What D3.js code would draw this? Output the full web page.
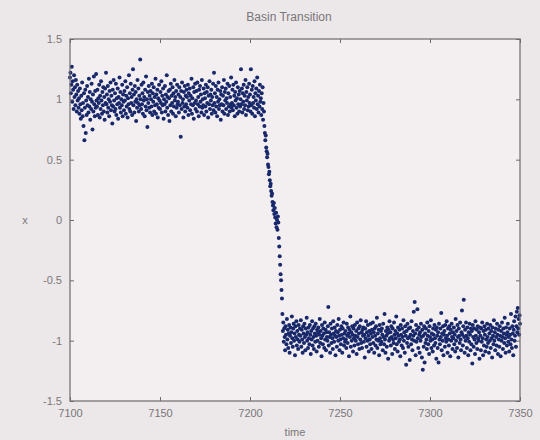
<!DOCTYPE html>
<html>
<head>
<meta charset="utf-8">
<script src="https://cdn.jsdelivr.net/npm/d3@7"></script>
<style>
  body { margin: 0; background: #ece8ea; }
  svg text { font-family: "Liberation Sans", Arial, sans-serif; fill: #7a7678; }
</style>
</head>
<body>
<script>
const w = 540;
const h = 440;
const margin = {top: 39, right: 20, bottom: 39, left: 70};
const title = "Basin Transition";
const xLabel = "time";
const yLabel = "x";
const xTicks = [7100, 7150, 7200, 7250, 7300, 7350];
const yTicks = [-1.5, -1, -0.5, 0, 0.5, 1, 1.5];
const dt = 0.25;

// upper state, from t = 7100
const upperStart = 7100;
const upperVals = [
1.18,1.22,1.05,1.12,1.27,.98,1.15,1.08,.92,1.2,1.02,1.1,.95,1.16,1.04,.9,1.12,.99,1.07,.93,
1.01,.88,1.09,.96,.84,1.03,.91,1.14,.86,.97,.78,1.05,.66,.93,1.08,.72,.99,.87,1.11,.95,
1.02,.89,1.17,.94,1.06,.83,1.0,.92,1.13,.98,.75,1.04,.9,1.19,.96,.86,1.07,.93,1.21,.99,
.94,1.08,.87,1.01,.97,1.12,.85,1.03,.92,1.15,.99,.88,1.06,.95,1.1,.9,1.02,.83,1.09,.97,
1.22,.96,1.04,.89,1.11,.93,1.0,.86,1.07,.98,1.14,.91,1.03,.95,.8,1.08,.94,1.16,.99,.9,
1.05,.92,1.13,.87,1.01,.96,1.09,.84,1.02,.97,1.18,.93,1.06,.89,1.0,.95,1.12,.86,1.04,.98,
.91,1.07,.99,1.15,.88,1.03,.94,1.1,.85,1.01,.96,1.2,.92,1.05,.9,1.13,.97,1.02,.87,1.08,
1.25,.95,1.04,.89,1.11,.98,1.06,.82,1.0,.93,1.16,.97,1.09,.9,1.03,.95,1.33,1.0,.92,1.12,
.96,1.05,.88,1.14,.99,1.02,.86,1.08,.94,1.19,.91,1.0,.77,1.06,.97,1.11,.93,1.03,.89,1.07,
1.0,.94,1.13,.87,1.05,.98,1.1,.9,1.02,.95,1.17,.88,1.04,.96,1.08,.85,1.01,.93,1.12,.99,
.92,1.06,.97,1.15,.89,1.03,.95,1.09,.84,1.0,.96,1.11,.9,1.04,.98,1.2,.93,1.02,.87,1.07,
1.01,.82,1.08,.95,1.13,.9,1.03,.97,1.1,.88,1.05,.94,1.16,.99,1.02,.86,1.07,.93,1.12,.96,
.98,1.04,.89,1.1,.95,1.02,.69,1.07,.92,1.14,.97,1.0,.85,1.06,.94,1.11,.9,1.03,.96,1.08,
1.02,.93,1.12,.87,1.05,.99,1.09,.91,1.03,.96,1.17,.88,1.01,.95,1.1,.84,1.06,.97,1.13,.92,
.99,1.07,.9,1.14,.96,1.02,.86,1.08,.94,1.11,.98,1.04,.89,1.16,.93,1.0,.95,1.09,.87,1.05,
1.01,.94,1.12,.9,1.06,.97,1.1,.85,1.03,.96,1.15,.92,1.04,.99,1.08,.88,1.02,.95,1.13,.91,
1.22,.97,1.05,.89,1.11,.94,1.02,.86,1.08,.98,1.14,.92,1.0,.95,1.07,.83,1.04,.96,1.1,.9,
1.03,.95,1.16,.88,1.06,.99,1.09,.92,1.01,.97,1.13,.87,1.05,.94,1.11,.9,1.02,.96,1.18,.93,
.97,1.08,.91,1.12,.95,1.03,.86,1.06,.99,1.14,.93,1.01,.88,1.1,.96,1.04,.9,1.07,.94,1.0,
1.25,.96,1.09,.89,1.05,.98,1.12,.92,1.03,.95,1.16,.87,1.06,.99,1.1,.91,1.02,.94,1.13,.97,
1.04,.9,1.25,.95,1.08,.88,1.11,.97,1.02,.93,1.15,.86,1.05,.99,1.09,.92,1.18,.96,1.03,.89,
1.07,.94,1.12,.98,1.01,.87,1.05,.92,1.1,.83,.97,.9,.78
];

// the jump between states, from t = 7208.25
const jumpStart = 7208.25;
const jumpVals = [
.72,.66,.7,.6,.57,.52,.55,.46,.44,.38,.4,.33,.28,.3,.24,.2,.22,.15,.12,.08,
.14,.05,.1,.02,-.03,.06,-.06,.0,-.08,.03,-.02,-.15,-.22,-.3,-.37,-.45,-.5,-.58,-.65
];

// lower state, from t = 7218
const lowerStart = 7218;
const lowerVals = [
-.78,-.92,-.85,-1.01,-.9,-.97,-1.08,-.88,-.95,-1.03,-.82,-.99,-.91,-1.06,-.94,-.87,-1.1,-.96,-.89,-1.02,
-.93,-.8,-.98,-1.05,-.9,-.86,-1.0,-.94,-1.12,-.88,-.97,-.84,-1.04,-.92,-.99,-1.07,-.87,-.95,-1.01,-.9,
-.96,-.83,-1.05,-.91,-.99,-1.1,-.88,-.94,-1.02,-.86,-.97,-1.08,-.9,-.95,-.81,-1.0,-.93,-1.06,-.89,-.98,
-1.03,-.87,-.95,-1.11,-.92,-.99,-.84,-1.04,-.9,-.97,-1.07,-.88,-.94,-1.01,-.86,-.96,-1.09,-.91,-1.0,-.93,
-.89,-1.05,-.95,-.82,-1.02,-.92,-.98,-1.13,-.87,-.96,-1.03,-.9,-.94,-1.06,-.85,-.99,-.91,-1.08,-.93,-.97,
-1.0,-.88,-.72,-1.04,-.93,-.97,-1.1,-.86,-.95,-1.02,-.9,-.98,-1.07,-.84,-.94,-1.01,-.89,-.96,-1.12,-.92,
-.97,-1.05,-.87,-.93,-1.0,-.82,-.96,-1.08,-.91,-.99,-1.03,-.88,-.95,-1.1,-.9,-.98,-.85,-1.04,-.94,-1.01,
-.92,-.99,-1.06,-.86,-.96,-1.02,-.89,-.94,-1.13,-.91,-.97,-.8,-1.05,-.93,-1.0,-.88,-.95,-1.09,-.9,-.98,
-1.04,-.87,-.96,-1.0,-.92,-1.11,-.85,-.97,-1.03,-.9,-.94,-1.07,-.88,-.99,-.83,-1.02,-.93,-1.06,-.91,-.96,
-.89,-1.01,-.95,-1.14,-.9,-.98,-.84,-1.05,-.93,-1.0,-.87,-.96,-1.09,-.92,-.99,-1.03,-.86,-.94,-1.07,-.91,
-.97,-.85,-1.02,-.93,-1.1,-.9,-.96,-1.04,-.88,-.99,-.81,-1.06,-.94,-1.0,-.91,-1.12,-.87,-.98,-1.03,-.92,
-1.01,-.9,-.95,-1.08,-.86,-.97,-1.03,-.78,-.99,-1.1,-.92,-.96,-1.05,-.89,-.94,-1.15,-.91,-1.0,-.84,-.98,
-.93,-1.04,-.88,-.97,-1.11,-.9,-.99,-1.02,-.85,-.95,-1.07,-.92,-.98,-.8,-1.03,-.94,-1.09,-.89,-.96,-1.01,
-.91,-.99,-1.13,-.87,-.95,-1.04,-.9,-.97,-1.06,-.83,-1.0,-.93,-1.1,-.88,-.96,-1.2,-.92,-1.02,-.86,-.98,
-1.05,-.9,-.97,-1.16,-.89,-.95,-1.03,-.84,-.99,-1.08,-.92,-.96,-.76,-1.0,-.68,-.94,-1.12,-.87,-1.01,-.91,
-.74,-.98,-1.06,-.89,-.95,-1.1,-.93,-1.0,-.86,-.97,-1.14,-.91,-1.24,-.96,-1.05,-.88,-1.18,-.94,-1.02,-.9,
-.99,-1.07,-.85,-.96,-1.03,-.92,-1.11,-.88,-.97,-1.0,-.83,-1.06,-.94,-.99,-1.09,-.9,-.95,-1.04,-.87,-.98,
-1.02,-.91,-1.15,-.89,-.96,-1.06,-.93,-1.18,-.86,-.99,-1.03,-.9,-.97,-.77,-1.08,-.94,-1.0,-.88,-1.12,-.95,
-.92,-1.05,-.87,-.98,-1.01,-.84,-.96,-1.1,-.9,-.99,-1.04,-.88,-.94,-1.13,-.91,-1.0,-.86,-.97,-1.07,-.93,
-.98,-.89,-1.03,-.95,-1.09,-.82,-1.0,-.92,-1.06,-.87,-.97,-1.14,-.9,-.96,-1.02,-.85,-.99,-1.08,-.93,-.75,
-.95,-1.04,-.88,-.66,-.97,-1.1,-.91,-1.0,-.85,-.96,-1.06,-.89,-.98,-1.12,-.93,-1.01,-.86,-.95,-1.08,-.9,
-1.03,-.92,-1.19,-.87,-.97,-1.05,-.9,-.99,-1.11,-.84,-.96,-1.02,-.91,-1.07,-.88,-.98,-1.0,-.93,-1.15,-.89,
-.96,-1.08,-.9,-1.01,-.85,-.98,-1.12,-.92,-1.04,-.88,-.95,-1.09,-.91,-.99,-1.05,-.86,-.97,-1.02,-.9,-1.1,
-.94,-1.0,-.87,-1.06,-.92,-.98,-1.14,-.89,-.96,-1.03,-.83,-1.0,-.93,-1.08,-.9,-.97,-1.04,-.86,-.95,-1.11,
-.91,-.99,-1.05,-.88,-.96,-1.13,-.92,-1.0,-.85,-.97,-1.07,-.9,-.94,-1.02,-.81,-.98,-1.1,-.89,-.95,-1.04,
-.93,-.86,-1.01,-.97,-1.09,-.9,-.95,-1.03,-.78,-.99,-1.06,-.88,-.94,-1.12,-.91,-.84,-1.0,-.96,-.8,-1.05,
-.88,-.76,-.93,-.73,-.9,-.82,-.95,-.79,-.86
];

function segment(start, vals) {
  return vals.map((v, i) => ({t: start + i * dt, x: v}));
}
const dataset = [].concat(
  segment(upperStart, upperVals),
  segment(jumpStart, jumpVals),
  segment(lowerStart, lowerVals)
);

const xScale = d3.scaleLinear()
                 .domain([7100, 7350])
                 .range([margin.left, w - margin.right]);
const yScale = d3.scaleLinear()
                 .domain([-1.5, 1.5])
                 .range([h - margin.bottom, margin.top]);

const svg = d3.select("body")
              .append("svg")
              .attr("width", w)
              .attr("height", h);

svg.append("rect")
   .attr("x", margin.left)
   .attr("y", margin.top)
   .attr("width", w - margin.left - margin.right)
   .attr("height", h - margin.top - margin.bottom)
   .attr("fill", "#f3eff1");

svg.append("g")
   .selectAll("circle")
   .data(dataset)
   .enter()
   .append("circle")
   .attr("cx", d => xScale(d.t))
   .attr("cy", d => yScale(d.x))
   .attr("r", 2)
   .attr("fill", "#18286a");

// matlab style box: ticks point inward on all four sides
const axisStyle = g => {
  g.select(".domain").remove();
  g.selectAll("line").attr("stroke", "#6e6a6c");
  g.selectAll("text").attr("fill", "#7a7678").style("font-size", "11px");
};

svg.append("g")
   .attr("transform", "translate(0," + (h - margin.bottom) + ")")
   .call(d3.axisBottom(xScale).tickValues(xTicks).tickSizeInner(-4).tickSizeOuter(0).tickPadding(8).tickFormat(d => String(d)))
   .call(axisStyle);
svg.append("g")
   .attr("transform", "translate(0," + margin.top + ")")
   .call(d3.axisTop(xScale).tickValues(xTicks).tickSizeInner(-4).tickSizeOuter(0).tickFormat(""))
   .call(axisStyle);
svg.append("g")
   .attr("transform", "translate(" + margin.left + ",0)")
   .call(d3.axisLeft(yScale).tickValues(yTicks).tickSizeInner(-4).tickSizeOuter(0).tickPadding(8).tickFormat(d => String(d)))
   .call(axisStyle);
svg.append("g")
   .attr("transform", "translate(" + (w - margin.right) + ",0)")
   .call(d3.axisRight(yScale).tickValues(yTicks).tickSizeInner(-4).tickSizeOuter(0).tickFormat(""))
   .call(axisStyle);

svg.append("rect")
   .attr("x", margin.left)
   .attr("y", margin.top)
   .attr("width", w - margin.left - margin.right)
   .attr("height", h - margin.top - margin.bottom)
   .attr("fill", "none")
   .attr("stroke", "#6e6a6c")
   .attr("stroke-width", 1.2);

svg.append("text")
   .attr("x", (margin.left + w - margin.right) / 2 - 6)
   .attr("y", 21)
   .attr("text-anchor", "middle")
   .style("font-size", "12px")
   .text(title);

svg.append("text")
   .attr("x", (margin.left + w - margin.right) / 2)
   .attr("y", 436)
   .attr("text-anchor", "middle")
   .style("font-size", "11px")
   .text(xLabel);

svg.append("text")
   .attr("x", 25)
   .attr("y", yScale(0) + 4)
   .attr("text-anchor", "middle")
   .style("font-size", "11px")
   .text(yLabel);
</script>
</body>
</html>
